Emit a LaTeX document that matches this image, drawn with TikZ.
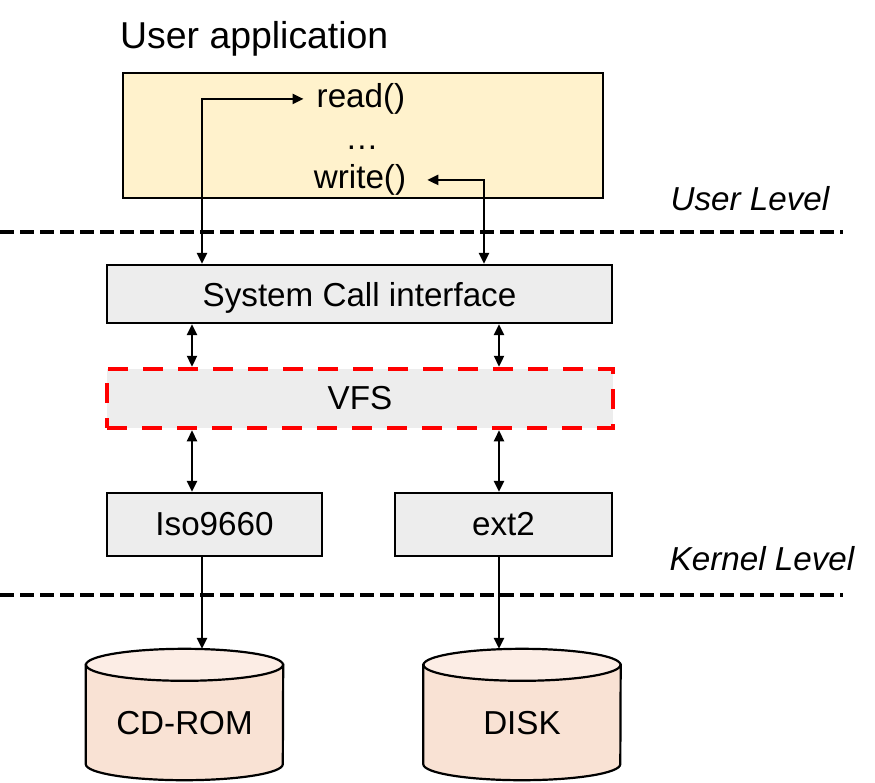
\documentclass[tikz,border=0pt]{standalone}
\usepackage{fontspec}
\setmainfont{Liberation Sans}
\usetikzlibrary{arrows.meta,calc}
\definecolor{appyellow}{HTML}{FFF2CC}
\definecolor{boxgray}{HTML}{EDEDED}
\definecolor{vfsred}{HTML}{FF0000}
\definecolor{cylbodyc}{HTML}{F9E2D4}
\definecolor{cyltopc}{HTML}{FCEDE5}
\newcommand\bodyfnt{\fontsize{33.2}{40}\selectfont}
\newcommand\titlefnt{\fontsize{37.4}{44}\selectfont}
\tikzset{
  plainbox/.style={draw, line width=2.2pt, fill=boxgray, inner sep=0pt, font=\bodyfnt},
  appbox/.style={draw, line width=2.2pt, fill=appyellow, inner sep=0pt},
  vfsbox/.style={draw=vfsred, line width=4.5pt, dash pattern=on 20pt off 15pt, fill=boxgray, inner sep=0pt, font=\bodyfnt},
  txt/.style={inner sep=0pt, font=\bodyfnt},
  lvl/.style={inner sep=0pt, font=\bodyfnt\itshape, anchor=base},
  levelline/.style={line width=4.5pt, dash pattern=on 14pt off 6pt},
  arr/.style={line width=2.3pt, -{Triangle[length=11pt,width=10pt]}},
  darr/.style={line width=2.3pt, {Triangle[length=11pt,width=10pt]}-{Triangle[length=11pt,width=10pt]}},
  cylarea/.style={inner sep=0pt, minimum width=197pt, minimum height=131pt},
  cylbody/.style={draw, line width=2.2pt, fill=cylbodyc},
  cyltop/.style={draw, line width=2.2pt, fill=cyltopc},
}
\begin{document}
\begin{tikzpicture}[x=1pt,y=-1pt]
\useasboundingbox (0,0) rectangle (875,782);

% title and application box
\node[inner sep=0pt, font=\titlefnt, anchor=base west] (title) at (120,48) {User application};
\node[appbox, minimum width=480pt, minimum height=125pt] (app) at (363,135.5) {};
\node[txt, anchor=base] (rd) at (361,107.5) {read()};
\node[txt, anchor=base] (dots) at (362,149) {\dots};
\node[txt, anchor=base] (wr) at (360,188.5) {write()};

% level lines and labels
\coordinate (l1a) at (0,232);
\coordinate (l1b) at (843,232);
\coordinate (l2a) at (0,595);
\coordinate (l2b) at (843,595);
\draw[levelline] (l1a) -- (l1b);
\draw[levelline] (l2a) -- (l2b);
\node[lvl] (ulevel) at (750,210) {User Level};
\node[lvl] (klevel) at (762,570) {Kernel Level};

% kernel boxes
\node[plainbox, text depth=0pt, minimum width=505pt, minimum height=58pt] (sci) at (359.5,294) {System Call interface};
\node[vfsbox, minimum width=506pt, minimum height=59pt] (vfs) at (360,398.5) {VFS};
\node[plainbox, minimum width=215pt, minimum height=63pt] (iso) at (214.5,524.5) {Iso9660};
\node[plainbox, minimum width=217pt, minimum height=63pt] (ext) at (503.5,524.5) {ext2};

% cylinders
\node[cylarea] (cd) at (184.5,714.5) {};
\node[cylarea] (disk) at (522,714.5) {};
\foreach \c in {cd,disk}{
  \draw[cylbody] ([yshift=-16pt]\c.north west) -- ([yshift=16pt]\c.south west)
     arc[start angle=180, end angle=360, x radius=98.5pt, y radius=16pt]
     -- ([yshift=-16pt]\c.north east) -- cycle;
  \draw[cyltop] ([yshift=-16pt]\c.north) ellipse[x radius=98.5pt, y radius=16pt];
}
\node[txt] (cdlabel) at (184.5,723) {CD-ROM};
\node[txt] (disklabel) at (522,723) {DISK};

% connector columns
\coordinate (cA) at (202,0);
\coordinate (cB) at (484,0);
\coordinate (cC) at (192,0);
\coordinate (cD) at (499,0);

% connectors
\draw[darr] (cA |- sci.north) -- (cA |- rd.west) -- ([xshift=-13pt]rd.west);
\draw[darr] (cB |- sci.north) -- (cB |- wr.east) -- ([xshift=21pt]wr.east);
\draw[darr] (cC |- sci.south) -- (cC |- vfs.north);
\draw[darr] (cD |- sci.south) -- (cD |- vfs.north);
\draw[darr] (cC |- vfs.south) -- (cC |- iso.north);
\draw[darr] (cD |- vfs.south) -- (cD |- ext.north);
\draw[arr] (cA |- iso.south) -- (cA |- cd.north);
\draw[arr] (cD |- ext.south) -- (cD |- disk.north);
\end{tikzpicture}
\end{document}
